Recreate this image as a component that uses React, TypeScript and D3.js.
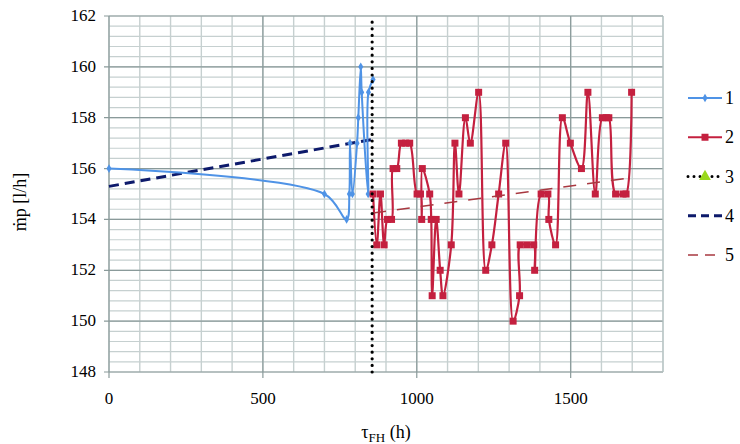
import { useRef, useEffect } from "react";
import * as d3 from "d3";

// series 1 (blue, smoothed)
const s1Tau = [0, 700, 772, 781, 783, 791, 806, 810, 818, 821, 842, 843, 858];
const s1Flow = [156, 155, 154, 155, 157, 155, 157, 158, 160, 159, 155, 159, 159.5];

// series 2 (red, squares)
const s2Tau = [858, 870, 882, 894, 905, 918, 923, 935, 950, 964, 977, 1001, 1012, 1016, 1018, 1042, 1047, 1050, 1063, 1076, 1085, 1112, 1124, 1137, 1158, 1174, 1201, 1224, 1244, 1266, 1289, 1313, 1334, 1336, 1358, 1380, 1383, 1404, 1426, 1429, 1451, 1473, 1499, 1535, 1556, 1580, 1603, 1616, 1624, 1646, 1670, 1680, 1698];
const s2Flow = [155, 153, 155, 153, 154, 154, 156, 156, 157, 157, 157, 155, 155, 154, 156, 155, 154, 151, 154, 152, 151, 153, 157, 155, 158, 157, 159, 152, 153, 155, 157, 150, 151, 153, 153, 153, 152, 155, 155, 154, 153, 158, 157, 156, 159, 155, 158, 158, 158, 155, 155, 155, 159];

// series 3 (vertical dotted), 4 and 5 (trend lines)
const s3Tau = [855, 855];
const s3Flow = [148, 162];
const s4Tau = [0, 858];
const s4Flow = [155.3, 157.15];
const s5Tau = [858, 1700];
const s5Flow = [154.25, 155.65];

const xTicks = [0, 500, 1000, 1500];
const yTicks = [148, 150, 152, 154, 156, 158, 160, 162];
const legendLabels = ["1", "2", "3", "4", "5"];

const blue = "#4f93e6";
const red = "#c4203f";
const navy = "#0d1a6b";
const maroon = "#a83840";

export default function App() {
  const ref = useRef<SVGSVGElement>(null);

  useEffect(() => {
    const svg = d3.select(ref.current);
    svg.selectAll("*").remove();
    const font = "'Liberation Serif', 'DejaVu Serif', serif";

    const x = d3.scaleLinear().domain([0, 1800]).range([109, 663]);
    const y = d3.scaleLinear().domain([148, 162]).range([372, 16]);

    const pts = (xs: number[], ys: number[]) => xs.map((v, i) => [v, ys[i]] as [number, number]);

    // grid
    const g = svg.append("g");
    const vMinor = d3.range(0, 1801, 100);
    const hMinor = d3.range(0, 36).map((i) => 148 + i * 0.4);
    g.selectAll(".hm").data(hMinor).enter().append("line")
      .attr("x1", x(0)).attr("x2", x(1800))
      .attr("y1", (d) => y(d)).attr("y2", (d) => y(d))
      .attr("stroke", "#c6d0d0").attr("stroke-width", 1.2);
    g.selectAll(".vm").data(vMinor).enter().append("line")
      .attr("x1", (d) => x(d)).attr("x2", (d) => x(d))
      .attr("y1", y(148)).attr("y2", y(162))
      .attr("stroke", "#c6d0d0").attr("stroke-width", 1.4);
    g.selectAll(".hM").data(yTicks).enter().append("line")
      .attr("x1", x(0) - 5).attr("x2", x(1800))
      .attr("y1", (d) => y(d)).attr("y2", (d) => y(d))
      .attr("stroke", "#8a9a9a").attr("stroke-width", 1.2);
    g.selectAll(".vM").data(xTicks).enter().append("line")
      .attr("x1", (d) => x(d)).attr("x2", (d) => x(d))
      .attr("y1", y(148) + 6).attr("y2", y(162))
      .attr("stroke", "#8a9a9a").attr("stroke-width", 1.2);
    g.append("line").attr("x1", x(1800)).attr("x2", x(1800))
      .attr("y1", y(148)).attr("y2", y(162))
      .attr("stroke", "#b8c4c4").attr("stroke-width", 1.2);

    // tick labels
    svg.selectAll(".yt").data(yTicks).enter().append("text")
      .attr("x", 96).attr("y", (d) => y(d) + 5)
      .attr("text-anchor", "end").attr("font-family", font).attr("font-size", 17)
      .text((d) => d);
    svg.selectAll(".xt").data(xTicks).enter().append("text")
      .attr("x", (d) => x(d)).attr("y", 404)
      .attr("text-anchor", "middle").attr("font-family", font).attr("font-size", 17)
      .text((d) => d);

    // axis titles
    const xt = svg.append("text").attr("x", 386).attr("y", 438)
      .attr("text-anchor", "middle").attr("font-family", font).attr("font-size", 18);
    xt.append("tspan").text("τ");
    xt.append("tspan").attr("dy", 4).attr("font-size", 13).text("FH");
    xt.append("tspan").attr("dy", -4).text(" (h)");
    svg.append("text").attr("transform", "translate(26,202) rotate(-90)")
      .attr("text-anchor", "middle").attr("font-family", font).attr("font-size", 18)
      .text("ṁp  [l/h]");

    const line = d3.line().x((d) => x(d[0])).y((d) => y(d[1]));
    const smooth = d3.line().x((d) => x(d[0])).y((d) => y(d[1])).curve(d3.curveCatmullRom.alpha(0.5));

    // 4 navy dashed
    svg.append("path").attr("d", line(pts(s4Tau, s4Flow)))
      .attr("fill", "none").attr("stroke", navy).attr("stroke-width", 3)
      .attr("stroke-dasharray", "10,6");

    // 1 blue
    svg.append("path").attr("d", smooth(pts(s1Tau, s1Flow)))
      .attr("fill", "none").attr("stroke", blue).attr("stroke-width", 2);
    svg.selectAll(".m1").data(pts(s1Tau, s1Flow)).enter().append("path")
      .attr("d", d3.symbol(d3.symbolDiamond, 22)())
      .attr("transform", (d) => `translate(${x(d[0])},${y(d[1])})`)
      .attr("fill", blue);

    // 2 red
    svg.append("path").attr("d", smooth(pts(s2Tau, s2Flow)))
      .attr("fill", "none").attr("stroke", red).attr("stroke-width", 2.2);
    svg.selectAll(".m2").data(pts(s2Tau, s2Flow)).enter().append("rect")
      .attr("x", (d) => x(d[0]) - 3.5).attr("y", (d) => y(d[1]) - 3.5)
      .attr("width", 7).attr("height", 7).attr("fill", red);

    // 5 maroon dashed
    svg.append("path").attr("d", line(pts(s5Tau, s5Flow)))
      .attr("fill", "none").attr("stroke", maroon).attr("stroke-width", 1.5)
      .attr("stroke-dasharray", "13,11");

    // 3 black dotted
    svg.append("path").attr("d", line(pts(s3Tau, s3Flow)))
      .attr("fill", "none").attr("stroke", "#000").attr("stroke-width", 3.2)
      .attr("stroke-linecap", "round").attr("stroke-dasharray", "0,6.6");

    // legend
    const ly = d3.scaleLinear().domain([0, 4]).range([98, 255]);
    const lg = svg.append("g");
    legendLabels.forEach((lab, i) => {
      const yy = ly(i);
      const x1 = 688, x2 = 722;
      const l = lg.append("line").attr("x1", x1).attr("x2", x2).attr("y1", yy).attr("y2", yy).attr("fill", "none");
      if (i === 0) {
        l.attr("stroke", blue).attr("stroke-width", 2);
        lg.append("path").attr("d", d3.symbol(d3.symbolDiamond, 22)())
          .attr("transform", `translate(${(x1 + x2) / 2},${yy})`).attr("fill", blue);
      } else if (i === 1) {
        l.attr("stroke", red).attr("stroke-width", 2.2);
        lg.append("rect").attr("x", (x1 + x2) / 2 - 3.5).attr("y", yy - 3.5)
          .attr("width", 7).attr("height", 7).attr("fill", red);
      } else if (i === 2) {
        l.attr("stroke", "#000").attr("stroke-width", 3).attr("stroke-linecap", "round")
          .attr("stroke-dasharray", "0,6");
        lg.append("path").attr("d", d3.symbol(d3.symbolTriangle, 60)())
          .attr("transform", `translate(${(x1 + x2) / 2},${yy})`).attr("fill", "#99d81c");
      } else if (i === 3) {
        l.attr("stroke", navy).attr("stroke-width", 3).attr("stroke-dasharray", "8,5");
      } else {
        l.attr("stroke", maroon).attr("stroke-width", 1.5).attr("stroke-dasharray", "10,7");
      }
      lg.append("text").attr("x", x2 + 3).attr("y", yy + 6)
        .attr("font-family", font).attr("font-size", 18).text(lab);
    });
  }, []);

  return (
    <svg ref={ref} width={740} height={444}
      style={{ position: "absolute", left: 0, top: 0, background: "#fff" }} />
  );
}
